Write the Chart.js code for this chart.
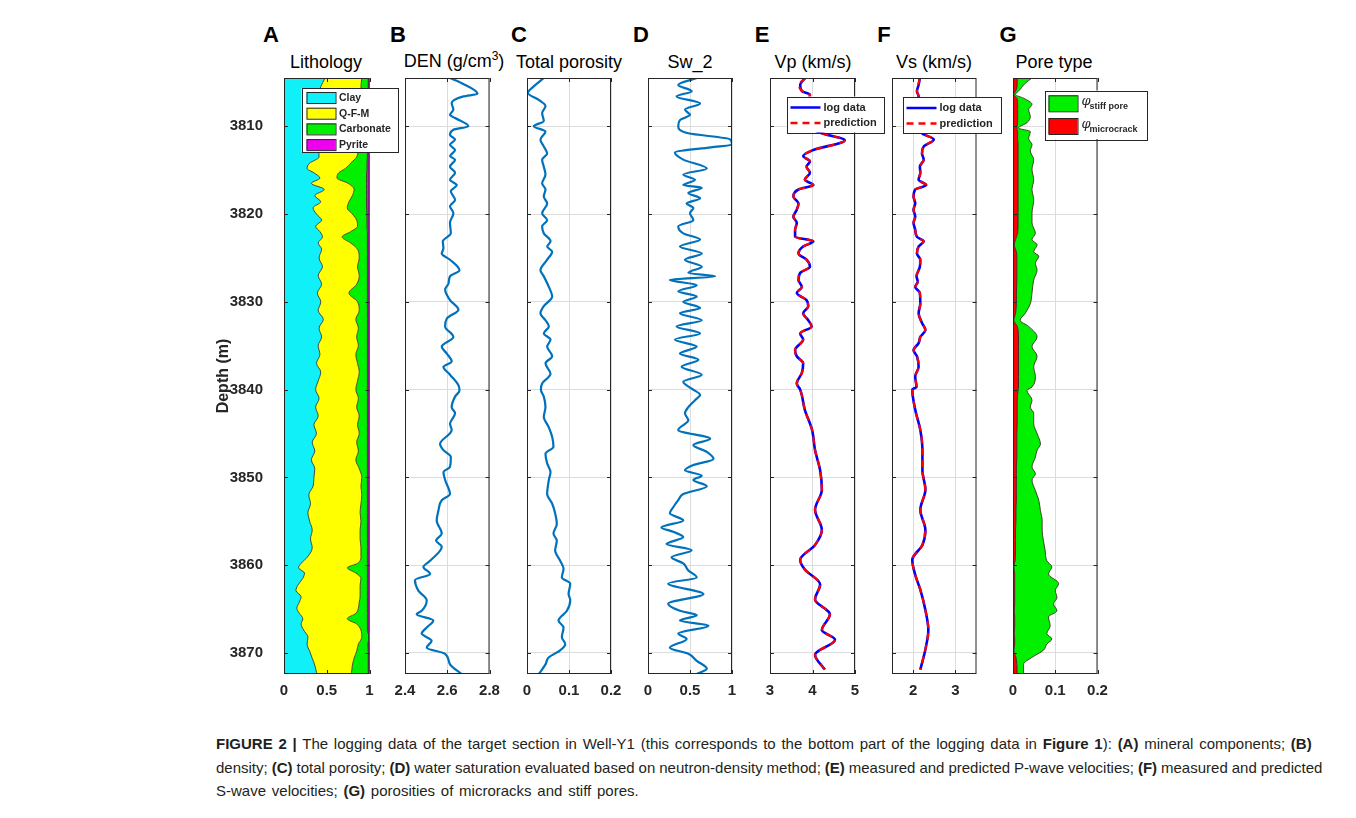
<!DOCTYPE html>
<html>
<head>
<meta charset="utf-8">
<title>Well-Y1 logging data</title>
<script src="https://cdn.jsdelivr.net/npm/chart.js@4.4.1/dist/chart.umd.min.js"></script>
<style>
  body { margin: 0; background: #fff; }
  #fig { position: relative; width: 1356px; height: 818px; overflow: hidden;
         font-family: "Liberation Sans", Arial, Helvetica, sans-serif; color: #000; }
  .panel { position: absolute; }
  .txt { position: absolute; transform: translate(-50%, -50%); white-space: nowrap; }
  .letter { font-weight: bold; font-size: 22px; }
  .ptitle { font-size: 18px; }
  .caption { position: absolute; left: 216px; top: 732px; font-size: 15px; line-height: 23.5px;
             color: #231f20; white-space: nowrap; }
  .caption div { height: 23.5px; }
</style>
</head>
<body>
<div id="fig">
  <div class="txt letter" style="left:271px;top:35px">A</div>
  <div class="txt letter" style="left:398px;top:35px">B</div>
  <div class="txt letter" style="left:519px;top:35px">C</div>
  <div class="txt letter" style="left:641px;top:35px">D</div>
  <div class="txt letter" style="left:762px;top:35px">E</div>
  <div class="txt letter" style="left:884px;top:35px">F</div>
  <div class="txt letter" style="left:1008px;top:35px">G</div>

  <div class="txt ptitle" style="left:326px;top:62px">Lithology</div>
  <div class="txt ptitle" style="left:454px;top:60px">DEN (g/cm<sup style="font-size:12px">3</sup>)</div>
  <div class="txt ptitle" style="left:569px;top:62px">Total porosity</div>
  <div class="txt ptitle" style="left:690px;top:62px">Sw_2</div>
  <div class="txt ptitle" style="left:813px;top:62px">Vp (km/s)</div>
  <div class="txt ptitle" style="left:934px;top:62px">Vs (km/s)</div>
  <div class="txt ptitle" style="left:1054px;top:62px">Pore type</div>

  <div class="caption">
    <div style="word-spacing:1.6px"><b>FIGURE 2 |</b> The logging data of the target section in Well-Y1 (this corresponds to the bottom part of the logging data in <b>Figure 1</b>): <b>(A)</b> mineral components; <b>(B)</b></div>
    <div style="word-spacing:-0.2px">density; <b>(C)</b> total porosity; <b>(D)</b> water saturation evaluated based on neutron-density method; <b>(E)</b> measured and predicted P-wave velocities; <b>(F)</b> measured and predicted</div>
    <div style="word-spacing:1.6px">S-wave velocities; <b>(G)</b> porosities of microracks and stiff pores.</div>
  </div>
</div>

<script>
// ---- data (depth in m) ----

// depth axis
const depthMin = 3804.5;
const depthMax = 3872.4;
const depthTicks = [3810, 3820, 3830, 3840, 3850, 3860, 3870];

// A: mineral fractions
const litDepth = [
  3804.5, 3805.5, 3806.5, 3807.5, 3808.5, 3809.5, 3810.5, 3811.5, 3812.5, 3813.5,
  3814.2, 3814.8, 3815.3, 3815.9, 3816.5, 3817.2, 3817.9, 3818.6, 3819.3, 3820.0,
  3820.7, 3821.4, 3822.0, 3822.6, 3823.3, 3824.0,
  3825, 3826, 3827, 3828, 3829, 3830, 3831, 3832, 3833, 3834,
  3835, 3836, 3837, 3838, 3839, 3840, 3841, 3842, 3843, 3844,
  3845, 3846, 3847, 3848, 3849, 3850, 3851, 3852, 3853, 3854,
  3855, 3856, 3857, 3858, 3859,
  3859.8, 3860.3, 3860.9, 3861.5, 3862.3, 3862.9, 3863.6, 3864.2, 3864.9, 3865.5,
  3866.1, 3866.7, 3867.4, 3868.2, 3869.0, 3869.8, 3870.6, 3871.4, 3872.2, 3872.8
];
const clay = [
  .48, .43, .40, .38, .37, .35, .35, .37, .40, .41,
  .30, .27, .35, .42, .32, .47, .36, .43, .34, .38,
  .44, .37, .42, .45, .40, .44,
  .41, .45, .40, .44, .39, .43, .40, .46, .41, .44,
  .40, .42, .38, .43, .40, .37, .41, .37, .40, .35,
  .38, .33, .36, .32, .36, .35, .34, .29, .31, .28,
  .30, .33, .31, .33, .28,
  .20, .17, .24, .22, .16, .14, .20, .18, .15, .18,
  .22, .20, .23, .28, .27, .30, .33, .36, .38, .40
];
const qfm = [
  .43, .47, .52, .55, .55, .56, .55, .52, .47, .44,
  .48, .45, .29, .20, .43, .35, .44, .33, .40, .42,
  .41, .49, .36, .23, .38, .42,
  .47, .41, .48, .41, .37, .43, .48, .38, .46, .41,
  .47, .42, .48, .45, .46, .47, .46, .48, .48, .51,
  .50, .52, .51, .52, .52, .56, .56, .62, .59, .61,
  .60, .56, .58, .57, .62,
  .66, .57, .60, .68, .73, .75, .69, .70, .72, .66,
  .52, .65, .67, .63, .60, .55, .49, .44, .41, .38
];
const carbonate = [
  .075, .085, .065, .05, .06, .07, .08, .09, .105, .125,
  .19, .25, .325, .345, .215, .145, .165, .205, .225, .17,
  .12, .11, .195, .295, .195, .115,
  .095, .115, .095, .125, .215, .115, .095, .135, .105, .125,
  .105, .135, .115, .095, .115, .135, .105, .125, .095, .115,
  .095, .125, .105, .135, .095, .065, .075, .065, .075, .085,
  .075, .085, .085, .075, .075,
  .115, .235, .135, .075, .085, .085, .085, .095, .105, .135,
  .235, .125, .075, .085, .11, .135, .165, .185, .195, .205
];
const pyrite = [
  .015, .015, .015, .02, .02, .02, .02, .02, .025, .025,
  .03, .03, .035, .035, .035, .035, .035, .035, .035, .03,
  .03, .03, .025, .025, .025, .025,
  .025, .025, .025, .025, .025, .025, .025, .025, .025, .025,
  .025, .025, .025, .025, .025, .025, .025, .025, .025, .025,
  .025, .025, .025, .025, .025, .025, .025, .025, .025, .025,
  .025, .025, .025, .025, .025,
  .025, .025, .025, .025, .025, .025, .025, .025, .025, .025,
  .025, .025, .025, .025, .02, .015, .015, .015, .015, .015
];

// B: density
const denDepth = [
  3804.5, 3805.1, 3806.3, 3806.6, 3807.35, 3808.1, 3808.7, 3809.06, 3810.0, 3810.4,
  3811.0, 3811.5, 3812.1, 3812.7, 3813.4, 3813.8, 3814.6, 3815.3, 3816.1, 3816.7,
  3817.4, 3818.4, 3819.1, 3819.9, 3821.0, 3822.2, 3823.1, 3823.9, 3824.5, 3825.2,
  3826.4, 3827.1, 3827.9, 3828.6, 3829.8, 3830.9, 3831.9, 3832.8, 3834.0, 3835.1,
  3835.9, 3836.8, 3837.4, 3838.3, 3839.5, 3840.1, 3840.8, 3842.0, 3842.7, 3843.9,
  3844.6, 3846.2, 3846.9, 3847.7, 3848.8, 3849.4, 3850.3, 3851.9, 3852.6, 3853.8,
  3854.9, 3856.4, 3857.2, 3857.9, 3859.5, 3860.2, 3861.0, 3861.7, 3862.9, 3864.0,
  3865.2, 3865.6, 3866.3, 3867.1, 3867.8, 3868.6, 3869.4, 3870.1, 3871.3, 3872.4
];
const denVal = [
  2.613, 2.669, 2.743, 2.677, 2.621, 2.629, 2.613, 2.637, 2.700, 2.629,
  2.613, 2.637, 2.613, 2.637, 2.613, 2.637, 2.613, 2.637, 2.613, 2.645,
  2.617, 2.637, 2.613, 2.629, 2.613, 2.617, 2.579, 2.582, 2.574, 2.613,
  2.658, 2.613, 2.606, 2.590, 2.613, 2.653, 2.598, 2.590, 2.629, 2.574,
  2.598, 2.621, 2.582, 2.613, 2.653, 2.658, 2.637, 2.621, 2.637, 2.613,
  2.621, 2.566, 2.582, 2.617, 2.613, 2.582, 2.590, 2.613, 2.574, 2.558,
  2.550, 2.574, 2.547, 2.574, 2.519, 2.487, 2.519, 2.447, 2.463, 2.503,
  2.479, 2.455, 2.534, 2.503, 2.479, 2.526, 2.503, 2.590, 2.613, 2.669
];

// C: total porosity
const porDepth = [
  3804.5, 3805.45, 3806.2, 3807.0, 3807.7, 3808.5, 3809.4, 3810.0, 3810.6, 3811.5,
  3812.3, 3813.1, 3813.8, 3814.6, 3815.5, 3816.5, 3817.2, 3818.0, 3818.8, 3819.9,
  3820.7, 3821.4, 3822.2, 3823.1, 3823.7, 3824.3, 3825.2, 3826.4, 3827.1, 3828.3,
  3829.4, 3830.5, 3831.3, 3832.1, 3832.8, 3833.6, 3834.3, 3835.1, 3836.2, 3837.0,
  3838.2, 3839.3, 3840.0, 3840.8, 3842.0, 3843.1, 3844.3, 3845.4, 3846.5, 3847.3,
  3848.4, 3849.4, 3850.3, 3851.9, 3853.0, 3854.1, 3855.3, 3856.4, 3857.2, 3858.3,
  3859.5, 3860.4, 3861.4, 3862.1, 3863.3, 3864.0, 3865.2, 3866.3, 3867.1, 3868.2,
  3869.0, 3869.7, 3870.5, 3871.3, 3872.4
];
const porVal = [
  .040, .016, .002, .028, .044, .036, .040, .016, .044, .032,
  .040, .048, .036, .040, .044, .036, .044, .040, .048, .036,
  .048, .036, .040, .056, .048, .060, .048, .032, .040, .052,
  .060, .040, .032, .044, .052, .040, .056, .048, .060, .044,
  .056, .036, .033, .040, .044, .040, .052, .060, .063, .044,
  .048, .056, .052, .048, .060, .067, .071, .063, .071, .067,
  .079, .087, .083, .103, .099, .103, .095, .075, .087, .083,
  .091, .079, .052, .044, .028
];

// D: water saturation Sw_2
const swDepth = [
  3804.5, 3805.3, 3806.0, 3806.6, 3807.4, 3808.1, 3808.7, 3809.3, 3810.0, 3810.8,
  3811.5, 3812.1, 3812.4, 3813.0, 3813.8, 3814.8, 3815.5, 3816.1, 3816.7, 3817.0,
  3817.6, 3818.2, 3818.8, 3819.3, 3819.9, 3820.7, 3821.4, 3822.2, 3822.9, 3823.7,
  3824.5, 3825.2, 3826.0, 3826.7, 3827.1, 3827.5, 3828.1, 3828.8, 3829.4, 3830.0,
  3830.7, 3831.3, 3832.1, 3832.8, 3833.6, 3834.3, 3835.1, 3835.9, 3836.6, 3837.4,
  3838.3, 3839.1, 3839.9, 3840.6, 3841.2, 3842.0, 3842.7, 3843.5, 3844.6, 3845.6,
  3846.3, 3847.1, 3847.9, 3848.6, 3849.2, 3849.8, 3850.3, 3851.0, 3851.9, 3852.6,
  3853.4, 3854.1, 3854.9, 3855.7, 3856.2, 3856.8, 3857.6, 3858.3, 3859.1, 3859.8,
  3860.6, 3861.4, 3862.1, 3863.3, 3864.4, 3865.2, 3865.7, 3866.3, 3866.9, 3867.8,
  3868.4, 3869.4, 3870.1, 3870.9, 3871.8, 3872.4
];
const swVal = [
  .58, .36, .52, .34, .62, .44, .50, .38, .36, .48,
  .98, 1.0, .75, .32, .42, .70, .42, .56, .42, .64,
  .48, .62, .46, .54, .50, .54, .36, .42, .62, .38,
  .64, .44, .64, .48, .80, .26, .58, .36, .58, .42,
  .62, .38, .64, .34, .62, .32, .58, .38, .60, .40,
  .64, .42, .52, .62, .56, .48, .44, .48, .36, .74,
  .54, .70, .78, .54, .44, .64, .54, .70, .42, .36,
  .30, .26, .42, .16, .30, .42, .22, .52, .28, .42,
  .48, .58, .24, .66, .24, .38, .58, .38, .72, .36,
  .46, .26, .48, .58, .70, .58
];

// E: P-wave velocity (km/s)
const vpDepth = [
  3804.5, 3805.3, 3806.0, 3806.4, 3807.5, 3808.5, 3809.5, 3810.3, 3810.8, 3811.6,
  3812.7, 3813.4, 3814.0, 3814.6, 3815.3, 3816.1, 3816.7, 3817.2, 3818.0, 3818.8,
  3819.5, 3820.3, 3821.0, 3821.8, 3822.6, 3823.1, 3823.7, 3824.5, 3825.2, 3826.0,
  3826.7, 3827.5, 3828.3, 3829.0, 3829.8, 3830.5, 3831.3, 3832.1, 3832.8, 3833.6,
  3834.3, 3835.5, 3836.2, 3837.0, 3838.1, 3839.3, 3840.0, 3842.3, 3844.6, 3846.9,
  3849.2, 3851.4, 3853.7, 3856.0, 3857.7, 3859.4, 3860.5, 3862.2, 3863.9, 3865.6,
  3867.4, 3868.5, 3870.2, 3871.9
];
const vpLog = [
  3.82, 3.71, 3.75, 3.94, 3.90, 3.85, 3.90, 4.00, 4.22, 4.76,
  4.02, 3.78, 3.94, 3.86, 3.94, 3.82, 4.02, 3.67, 3.55, 3.67,
  3.63, 3.55, 3.63, 3.59, 3.59, 4.02, 3.78, 3.67, 3.86, 3.94,
  3.71, 3.67, 3.75, 3.63, 3.86, 3.90, 3.78, 3.90, 3.98, 3.71,
  3.78, 3.59, 3.63, 3.78, 3.75, 3.63, 3.71, 3.82, 3.99, 4.06,
  4.18, 4.22, 4.06, 4.22, 4.06, 3.71, 3.82, 4.18, 4.06, 4.41,
  4.22, 4.53, 4.06, 4.29
];
const vpPred = [
  3.84, 3.68, 3.76, 3.94, 3.90, 3.85, 3.90, 4.00, 4.22, 4.76,
  4.02, 3.78, 3.94, 3.86, 3.94, 3.82, 4.02, 3.67, 3.55, 3.67,
  3.63, 3.55, 3.63, 3.59, 3.59, 4.02, 3.78, 3.67, 3.86, 3.94,
  3.71, 3.67, 3.75, 3.63, 3.86, 3.90, 3.78, 3.90, 3.98, 3.71,
  3.78, 3.59, 3.63, 3.78, 3.75, 3.63, 3.71, 3.82, 3.99, 4.06,
  4.18, 4.22, 4.06, 4.22, 4.06, 3.71, 3.82, 4.18, 4.06, 4.41,
  4.22, 4.53, 4.06, 4.29
];

// F: S-wave velocity (km/s)
const vsDepth = [
  3804.5, 3805.3, 3806.0, 3806.6, 3808.0, 3809.5, 3810.8, 3811.5, 3812.3, 3813.1,
  3813.8, 3814.6, 3815.3, 3816.1, 3816.7, 3817.2, 3818.0, 3818.8, 3819.5, 3820.3,
  3821.0, 3821.8, 3822.6, 3823.1, 3823.7, 3824.5, 3825.2, 3826.0, 3827.1, 3827.7,
  3828.3, 3829.0, 3830.2, 3831.3, 3832.4, 3833.2, 3834.0, 3834.7, 3835.5, 3836.2,
  3837.4, 3838.5, 3839.7, 3840.0, 3842.3, 3844.6, 3846.9, 3849.2, 3851.4, 3853.7,
  3856.0, 3857.7, 3859.4, 3861.1, 3862.8, 3865.1, 3867.4, 3869.6, 3871.9
];
const vsLog = [
  2.16, 2.13, 2.09, 2.13, 2.12, 2.14, 2.21, 2.49, 2.25, 2.21,
  2.25, 2.16, 2.17, 2.13, 2.31, 2.05, 2.01, 2.05, 2.01, 2.05,
  2.01, 2.05, 2.09, 2.25, 2.13, 2.09, 2.17, 2.16, 2.08, 2.11,
  2.05, 2.16, 2.17, 2.13, 2.21, 2.29, 2.17, 2.13, 2.01, 2.09,
  2.13, 2.05, 2.08, 1.98, 2.05, 2.17, 2.22, 2.22, 2.29, 2.17,
  2.29, 2.22, 1.98, 2.05, 2.17, 2.29, 2.36, 2.29, 2.17
];
const vsPred = [
  2.16, 2.12, 2.09, 2.13, 2.12, 2.14, 2.21, 2.49, 2.25, 2.21,
  2.25, 2.16, 2.17, 2.13, 2.31, 2.05, 2.01, 2.05, 2.01, 2.05,
  2.01, 2.05, 2.09, 2.25, 2.13, 2.09, 2.17, 2.16, 2.08, 2.11,
  2.05, 2.16, 2.17, 2.13, 2.21, 2.29, 2.17, 2.13, 2.01, 2.09,
  2.13, 2.05, 2.08, 1.98, 2.05, 2.17, 2.22, 2.22, 2.29, 2.17,
  2.29, 2.22, 1.98, 2.05, 2.17, 2.29, 2.36, 2.29, 2.17
];

// G: pore type porosities
const poreDepth = [
  3804.5, 3805.1, 3805.8, 3806.4, 3806.8, 3807.5, 3808.1, 3808.9, 3809.6, 3810.2,
  3810.6, 3811.4, 3812.1, 3812.8, 3813.8, 3814.9, 3816.1, 3817.2, 3818.4, 3819.9,
  3821.0, 3822.2, 3822.9, 3823.5, 3824.3, 3824.8, 3825.6, 3826.4, 3827.5, 3829.0,
  3830.2, 3831.3, 3832.1, 3832.8, 3834.0, 3835.1, 3836.2, 3837.4, 3838.5, 3839.7,
  3840.1, 3841.2, 3842.0, 3842.7, 3843.9, 3845.0, 3846.2, 3846.9, 3847.7, 3848.8,
  3849.6, 3850.3, 3851.5, 3852.6, 3853.8, 3854.9, 3856.0, 3857.2, 3858.3, 3859.5,
  3860.2, 3861.0, 3862.1, 3862.9, 3863.7, 3864.4, 3865.2, 3865.9, 3866.9, 3867.8,
  3868.4, 3869.0, 3869.7, 3870.5, 3871.3, 3872.4
];
const phiMicrocrack = [
  .010, .010, .008, .002, .009, .011, .011, .011, .011, .009,
  .011, .011, .012, .012, .012, .012, .012, .012, .012, .012,
  .012, .011, .006, .003, .008, .009, .009, .009, .009, .008,
  .008, .006, .002, .010, .013, .013, .013, .013, .013, .013,
  .012, .010, .010, .010, .010, .009, .009, .009, .009, .008,
  .008, .008, .008, .008, .007, .007, .006, .006, .006, .005,
  .002, .004, .004, .004, .004, .004, .003, .004, .004, .003,
  .004, .004, .002, .007, .009, .010
];
const phiStiff = [
  .035, .019, .009, .004, .016, .034, .026, .030, .022, .004,
  .030, .026, .033, .029, .037, .033, .037, .033, .037, .033,
  .033, .042, .039, .054, .041, .052, .044, .048, .040, .037,
  .033, .023, .015, .027, .044, .032, .044, .036, .040, .032,
  .021, .035, .031, .039, .039, .048, .056, .048, .044, .037,
  .045, .037, .045, .053, .058, .062, .063, .066, .070, .075,
  .090, .080, .104, .096, .100, .092, .101, .080, .084, .077,
  .088, .076, .070, .038, .016, .015
];

// ---- layout (page pixels) ----
const CANVAS_TOP = 40;
const PLOT_TOP = 78;
const PLOT_BOTTOM = 674;
const XAXIS_H = 32;
const PANEL_BOX = {
  A: { left: 284, width: 85.5, padL: 84, padR: 40 },
  B: { left: 405, width: 84.5, padL: 30, padR: 20 },
  C: { left: 527, width: 84,   padL: 30, padR: 20 },
  D: { left: 648, width: 84,   padL: 30, padR: 20 },
  E: { left: 770, width: 85,   padL: 30, padR: 40 },
  F: { left: 892, width: 84.5, padL: 30, padR: 40 },
  G: { left: 1013, width: 84.5, padL: 30, padR: 60 },
};
const INK = '#262626';
const GRID = '#dcdcdc';
const TICK_FONT = { family: '"Liberation Sans", Arial, sans-serif', size: 15, weight: 'bold' };

function pts(depths, values) {
  return depths.map((d, i) => ({ x: values[i], y: d }));
}

function curve(depths, values, color, width, dash, order) {
  return {
    data: pts(depths, values),
    borderColor: color,
    borderWidth: width,
    borderDash: dash || [],
    pointRadius: 0,
    cubicInterpolationMode: 'monotone',
    fill: false,
    order: order || 0,
  };
}

// axes box with inward tick marks (MATLAB look)
const framePlugin = {
  id: 'frame',
  afterDatasetsDraw(chart) {
    const { ctx, chartArea: a, scales } = chart;
    ctx.save();
    ctx.strokeStyle = INK;
    ctx.lineWidth = 1;
    ctx.beginPath();
    scales.y.ticks.forEach(t => {
      const py = Math.round(scales.y.getPixelForValue(t.value)) + 0.5;
      ctx.moveTo(a.left, py); ctx.lineTo(a.left + 4, py);
      ctx.moveTo(a.right, py); ctx.lineTo(a.right - 4, py);
    });
    scales.x.ticks.forEach(t => {
      const px = Math.round(scales.x.getPixelForValue(t.value)) + 0.5;
      ctx.moveTo(px, a.top); ctx.lineTo(px, a.top + 4);
      ctx.moveTo(px, a.bottom); ctx.lineTo(px, a.bottom - 4);
    });
    ctx.stroke();
    ctx.strokeRect(a.left + 0.5, a.top + 0.5, a.right - a.left - 1, a.bottom - a.top - 1);
    ctx.restore();
  }
};

function legendFrame(ctx, x, y, w, h) {
  ctx.fillStyle = '#fff';
  ctx.fillRect(x, y, w, h);
  ctx.strokeStyle = INK;
  ctx.lineWidth = 1;
  ctx.strokeRect(Math.round(x) + 0.5, Math.round(y) + 0.5, Math.round(w), Math.round(h));
}

function buildPanel(key, datasets, xMin, xMax, xTicks, legend) {
  const box = PANEL_BOX[key];
  const yLabels = key === 'A';
  const left = box.left - box.padL;
  const w = Math.round(box.width + box.padL + box.padR);
  const h = PLOT_BOTTOM - CANVAS_TOP + XAXIS_H;

  const wrap = document.createElement('div');
  wrap.className = 'panel';
  wrap.style.left = left + 'px';
  wrap.style.top = CANVAS_TOP + 'px';
  const canvas = document.createElement('canvas');
  canvas.width = w; canvas.height = h;
  canvas.style.width = w + 'px'; canvas.style.height = h + 'px';
  wrap.appendChild(canvas);
  document.getElementById('fig').appendChild(wrap);

  const plugins = [framePlugin];
  if (legend) {
    plugins.push({ id: 'legend' + key, afterDraw(chart) { legend(chart.ctx, left, CANVAS_TOP); } });
  }

  return new Chart(canvas, {
    type: 'line',
    data: { datasets },
    plugins,
    options: {
      indexAxis: 'y',
      responsive: false,
      animation: false,
      events: [],
      layout: { padding: { left: 0, right: w - box.padL - box.width, top: PLOT_TOP - CANVAS_TOP, bottom: 0 } },
      plugins: { legend: { display: false }, tooltip: { enabled: false } },
      scales: {
        y: {
          type: 'linear',
          reverse: true,
          min: depthMin,
          max: depthMax,
          afterBuildTicks: s => { s.ticks = depthTicks.map(v => ({ value: v })); },
          afterFit: s => { s.width = box.padL; s.paddingTop = 0; s.paddingBottom = 0; },
          ticks: { display: yLabels, font: TICK_FONT, color: INK, padding: 21, callback: v => String(v) },
          grid: { color: GRID, drawTicks: false },
          border: { display: false },
          title: {
            display: yLabels, text: 'Depth (m)', color: INK,
            font: { family: TICK_FONT.family, size: 16, weight: 'bold' },
            padding: { top: 14, bottom: 0 }
          }
        },
        x: {
          type: 'linear',
          min: xMin,
          max: xMax,
          afterBuildTicks: s => { s.ticks = xTicks.map(v => ({ value: v })); },
          afterFit: s => { s.height = XAXIS_H; s.paddingLeft = 0; s.paddingRight = 0; },
          ticks: { font: TICK_FONT, color: INK, padding: 8, maxRotation: 0, autoSkip: false,
                   callback: v => String(+v.toFixed(2)) },
          grid: { color: GRID, drawTicks: false },
          border: { display: false }
        }
      }
    }
  });
}

// ---- A: lithology (stacked fractions) ----
const minerals = [
  { name: 'Clay', values: clay, color: '#0ff0f8' },
  { name: 'Q-F-M', values: qfm, color: '#ffff00' },
  { name: 'Carbonate', values: carbonate, color: '#00f000' },
  { name: 'Pyrite', values: pyrite, color: '#f000f0' },
];
let running = litDepth.map(() => 0);
const litSets = minerals.map((m, k) => {
  running = running.map((c, i) => c + m.values[i]);
  return {
    data: pts(litDepth, running),
    borderColor: '#3a3a2a',
    borderWidth: 0.9,
    backgroundColor: m.color,
    pointRadius: 0,
    cubicInterpolationMode: 'monotone',
    fill: k === 0 ? { value: 0 } : '-1',
  };
});

buildPanel('A', litSets, 0, 1, [0, 0.5, 1], (ctx, ox, oy) => {
  const x = 301.5 - ox, y = 88 - oy;
  legendFrame(ctx, x, y, 95.5, 64);
  ctx.font = 'bold 10.5px "Liberation Sans", Arial, sans-serif';
  ctx.textBaseline = 'middle';
  minerals.forEach((m, i) => {
    const cy = y + 9.5 + i * 15.7;
    ctx.fillStyle = m.color;
    ctx.fillRect(x + 5, cy - 5.5, 29, 11);
    ctx.strokeStyle = INK;
    ctx.strokeRect(x + 5.5, cy - 5, 29, 11);
    ctx.fillStyle = INK;
    ctx.fillText(m.name, x + 37.5, cy + 0.5);
  });
});

// ---- B, C, D: single curves ----
const LOG_BLUE = '#0072bd';
buildPanel('B', [curve(denDepth, denVal, LOG_BLUE, 2.2)], 2.4, 2.8, [2.4, 2.6, 2.8]);
buildPanel('C', [curve(porDepth, porVal, LOG_BLUE, 2.2)], 0, 0.2, [0, 0.1, 0.2]);
buildPanel('D', [curve(swDepth, swVal, LOG_BLUE, 2.2)], 0, 1, [0, 0.5, 1]);

// ---- E, F: measured vs predicted velocities ----
function velocityLegend(bx, by, bw) {
  return (ctx, ox, oy) => {
    const x = bx - ox, y = by - oy;
    legendFrame(ctx, x, y, bw, 36);
    ctx.lineWidth = 2.5;
    ctx.strokeStyle = '#0000ff';
    ctx.setLineDash([]);
    ctx.beginPath(); ctx.moveTo(x + 4, y + 11); ctx.lineTo(x + 34, y + 11); ctx.stroke();
    ctx.strokeStyle = '#ff0000';
    ctx.setLineDash([7, 5]);
    ctx.beginPath(); ctx.moveTo(x + 4, y + 26.5); ctx.lineTo(x + 34, y + 26.5); ctx.stroke();
    ctx.setLineDash([]);
    ctx.fillStyle = INK;
    ctx.font = 'bold 11px "Liberation Sans", Arial, sans-serif';
    ctx.textBaseline = 'middle';
    ctx.fillText('log data', x + 37, y + 11);
    ctx.fillText('prediction', x + 37, y + 26.5);
  };
}
// prediction (lower order) is drawn on top of the log curve
buildPanel('E', [
  curve(vpDepth, vpLog, '#0000ff', 2.6, null, 1),
  curve(vpDepth, vpPred, '#ff0000', 2.2, [7, 5], 0),
], 3, 5, [3, 4, 5], velocityLegend(786.5, 96.5, 96.5));
buildPanel('F', [
  curve(vsDepth, vsLog, '#0000ff', 2.6, null, 1),
  curve(vsDepth, vsPred, '#ff0000', 2.2, [7, 5], 0),
], 1.5, 3.5, [2, 3], velocityLegend(902.5, 97, 98));

// ---- G: pore type (stacked) ----
const stiffTop = phiMicrocrack.map((v, i) => v + phiStiff[i]);
buildPanel('G', [
  { data: pts(poreDepth, phiMicrocrack), borderColor: '#3a2020', borderWidth: 0.9, backgroundColor: '#ff0000',
    pointRadius: 0, cubicInterpolationMode: 'monotone', fill: { value: 0 } },
  { data: pts(poreDepth, stiffTop), borderColor: '#3a3020', borderWidth: 0.9, backgroundColor: '#00f000',
    pointRadius: 0, cubicInterpolationMode: 'monotone', fill: '-1' },
], 0, 0.2, [0, 0.1, 0.2], (ctx, ox, oy) => {
  const x = 1044.5 - ox, y = 90.5 - oy;
  legendFrame(ctx, x, y, 102, 48.5);
  const rows = [
    { color: '#00f000', sub: 'stiff pore' },
    { color: '#ff0000', sub: 'microcrack' },
  ];
  rows.forEach((r, i) => {
    const cy = y + 12.8 + i * 22.7;
    ctx.fillStyle = r.color;
    ctx.fillRect(x + 4, cy - 8, 29, 16);
    ctx.strokeStyle = INK;
    ctx.lineWidth = 1;
    ctx.strokeRect(x + 4.5, cy - 7.5, 29, 16);
    ctx.fillStyle = INK;
    ctx.textBaseline = 'alphabetic';
    ctx.font = 'italic 13px "DejaVu Serif", serif';
    ctx.fillText('\u03C6', x + 37, cy + 2);
    ctx.font = 'bold 9px "Liberation Sans", Arial, sans-serif';
    ctx.fillText(r.sub, x + 45, cy + 6);
  });
});
</script>
</body>
</html>
